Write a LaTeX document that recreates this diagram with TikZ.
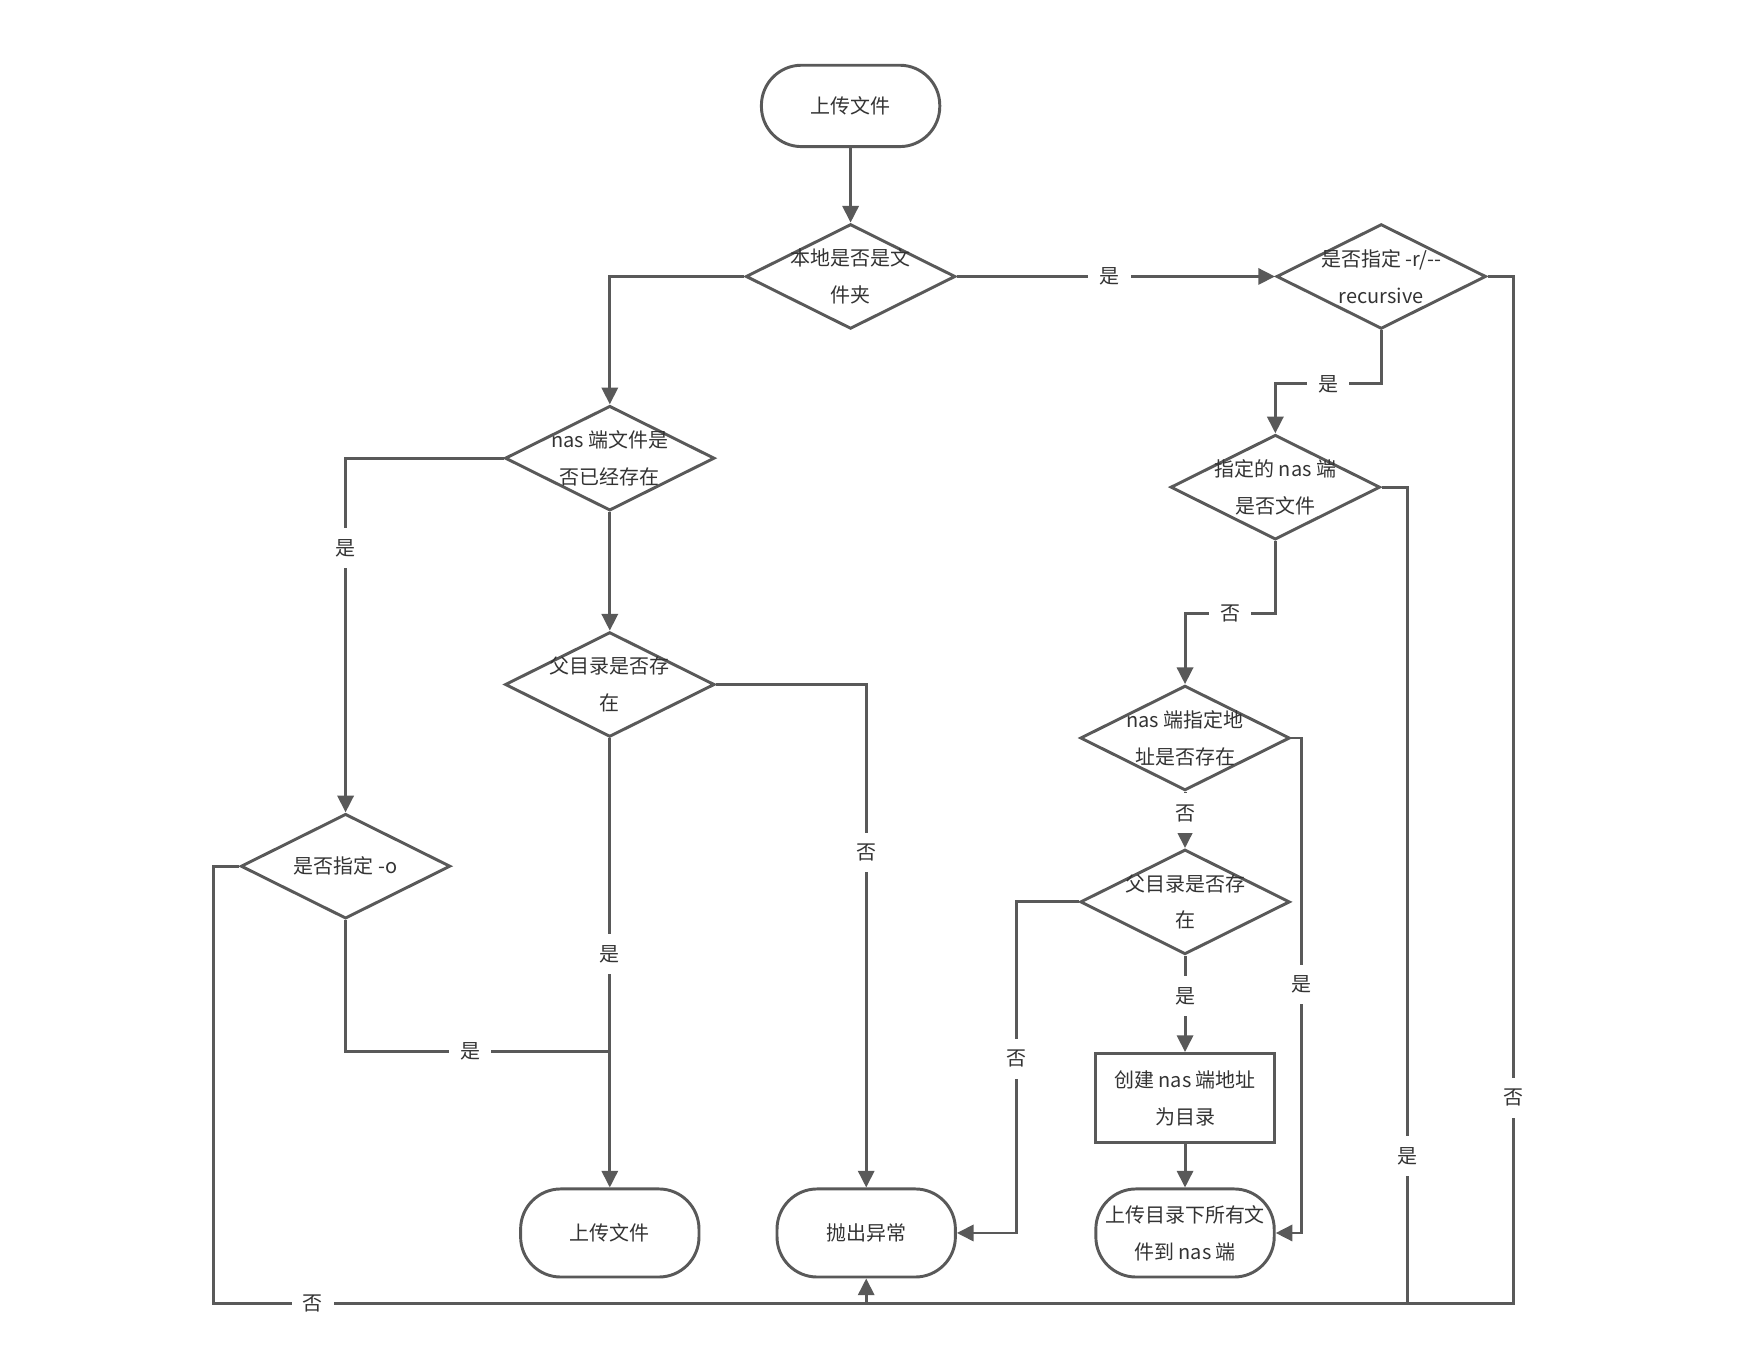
\documentclass[tikz,border=0pt]{standalone}
\usepackage{fontspec}
\setmainfont{Noto Sans CJK SC}
\usetikzlibrary{shapes.geometric,arrows.meta,positioning}

\definecolor{linegray}{HTML}{595959}
\definecolor{textgray}{HTML}{333333}

\tikzset{
  terminal/.style={draw=linegray, line width=1.5pt, rounded corners=0.72cm, minimum width=3.2cm, minimum height=1.58cm, inner sep=1pt, align=center, text=textgray},
  decision/.style={draw=linegray, line width=1.5pt, diamond, minimum width=3.76cm, minimum height=1.88cm, inner sep=0pt},
  process/.style={draw=linegray, line width=1.5pt, rectangle, minimum width=3.2cm, minimum height=1.6cm, inner sep=1pt, align=center, text=textgray},
  dtext/.style={align=center, text=textgray, inner sep=0pt},
  lbl/.style={fill=white, inner sep=0.2cm, text=textgray},
  wire/.style={draw=linegray, line width=1.5pt}
}

\begin{document}
\begin{tikzpicture}[>={Triangle[length=3mm,width=2.9mm]}, node distance=3cm, on grid, font=\fontsize{10.2pt}{18.8pt}\selectfont]
  \useasboundingbox (0,0) rectangle (31.36,-24.5);

  \node[terminal, minimum height=1.46cm] (start) at (15.26,-1.9) {上传文件};
  \node[decision, label={[dtext]center:本地是否是文\\件夹}] (isdir) [below=3.06cm of start] {};
  \node[decision, label={[dtext]center:是否指定 -r/-{}-\\recursive}] (recur) [right=9.52cm of isdir] {};
  \node[decision, label={[dtext]center:nas 端文件是\\否已经存在}] (nasexist) [below left=3.26cm and 4.32cm of isdir] {};
  \node[decision, label={[dtext]center:指定的 nas 端\\是否文件}] (nasfile) [below left=3.78cm and 1.9cm of recur] {};
  \node[decision, label={[dtext]center:父目录是否存\\在}] (parent) [below=4.06cm of nasexist] {};
  \node[decision, label={[dtext]center:nas 端指定地\\址是否存在}] (nasaddr) [below left=4.5cm and 1.62cm of nasfile] {};
  \node[decision, label={[dtext]center:是否指定 -o}] (opto) [below left=7.32cm and 4.74cm of nasexist] {};
  \node[decision, label={[dtext]center:父目录是否存\\在}] (parent2) [below=2.94cm of nasaddr] {};
  \node[process] (mkdir) [below=3.52cm of parent2] {创建 nas 端地址\\为目录};
  \node[terminal] (updir) [below=2.42cm of mkdir] {上传目录下所有文\\件到 nas 端};
  \node[terminal] (upfile) [below=9.84cm of parent] {上传文件};
  \node[terminal] (throw) [right=4.6cm of upfile] {抛出异常};
  \coordinate[below=1.26cm of throw] (bus);
  \coordinate[above=2.44cm of upfile.north] (join);

  \path[->, every edge/.style={wire}]
  (start)    edge (isdir)
  (isdir)    edge node[lbl, pos=0.48] {是} (recur)
  (nasexist) edge (parent)
  (parent)   edge node[lbl, pos=0.48] {是} (upfile)
  (nasaddr)  edge node[lbl, pos=0.38] {否} (parent2)
  (parent2)  edge node[lbl, pos=0.42] {是} (mkdir)
  (mkdir)    edge (updir)
  (bus)      edge (throw);

  \draw[wire, ->] (isdir.west) -| (nasexist.north);
  \draw[wire, ->] (recur.south) -- ++(0,-0.96) -| node[lbl, pos=0.25] {是} (nasfile.north);
  \draw[wire] (recur.east) -- ++(0.46,0) |- node[lbl, pos=0.4] {否} (bus);
  \draw[wire, ->] (nasexist.west) -| node[lbl, pos=0.627] {是} (opto.north);
  \draw[wire, ->] (parent.east) -| node[lbl, pos=0.667] {否} (throw.north);
  \draw[wire] (opto.south) |- node[lbl, pos=0.736] {是} (join);
  \draw[wire] (opto.west) -- ++(-0.46,0) |- node[lbl, pos=0.576] {否} (bus);
  \draw[wire, ->] (nasfile.south) -- ++(0,-1.3) -| node[lbl, pos=0.25] {否} (nasaddr.north);
  \draw[wire] (nasfile.east) -- ++(0.46,0) |- node[lbl, pos=0.41] {是} (bus);
  \draw[wire, ->] (nasaddr.east) -- ++(0.18,0) |- node[lbl, pos=0.249] {是} (updir.east);
  \draw[wire, ->] (parent2.west) -- ++(-1.12,0) |- node[lbl, pos=0.237] {否} (throw.east);
\end{tikzpicture}
\end{document}
